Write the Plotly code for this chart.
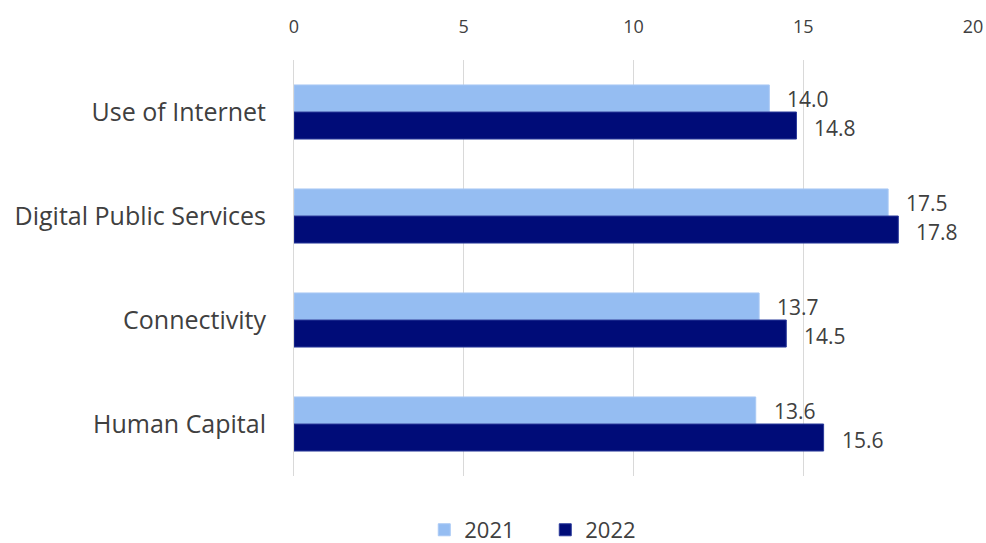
import plotly.graph_objects as go

categories = ["Use of Internet", "Digital Public Services", "Connectivity", "Human Capital"]
values_2021 = [14.0, 17.5, 13.7, 13.6]
values_2022 = [14.8, 17.8, 14.5, 15.6]
x_ticks = [0, 5, 10, 15, 20]

c2021 = "#95BDF2"
c2022 = "#000C78"
font_family = "Open Sans, Noto Sans, sans-serif"
text_color = "#404040"

fig = go.Figure()
fig.add_trace(go.Bar(
    y=categories, x=values_2021, name="2021", orientation="h",
    marker=dict(color=c2021, line=dict(color="#a9c9f5", width=1)),
))
fig.add_trace(go.Bar(
    y=categories, x=values_2022, name="2022", orientation="h",
    marker=dict(color=c2022, line=dict(color="#2a3a9a", width=1)),
))

annotations = []
for cat, v in zip(categories, values_2021):
    annotations.append(dict(x=v, y=cat, text=f"{v:.1f}", showarrow=False,
                            xanchor="left", yanchor="middle", xshift=16, yshift=13,
                            font=dict(size=21, color=text_color, family=font_family)))
for cat, v in zip(categories, values_2022):
    annotations.append(dict(x=v, y=cat, text=f"{v:.1f}", showarrow=False,
                            xanchor="left", yanchor="middle", xshift=16, yshift=-16,
                            font=dict(size=21, color=text_color, family=font_family)))

fig.update_layout(
    width=986, height=543,
    margin=dict(l=294, r=13, t=60, b=67),
    paper_bgcolor="white", plot_bgcolor="white",
    barmode="group", bargap=0.48, bargroupgap=0,
    font=dict(family=font_family, size=18, color=text_color),
    showlegend=True,
    annotations=annotations,
    legend=dict(orientation="h", xref="container", yref="container",
                x=0.553, xanchor="center", y=0.024, yanchor="middle",
                entrywidth=76, entrywidthmode="pixels",
                font=dict(size=22, color=text_color), traceorder="normal"),
    xaxis=dict(side="top", range=[0, 20], tickvals=x_ticks, showgrid=True,
               gridcolor="#d9d9d9", gridwidth=1, zeroline=False, showline=False,
               ticks="", automargin=False, ticklabelstandoff=22,
               tickfont=dict(size=18, color=text_color)),
    yaxis=dict(categoryorder="array", categoryarray=categories, autorange="reversed",
               showgrid=False, showline=True, linecolor="#d9d9d9", ticks="",
               automargin=False, ticklabelstandoff=22,
               tickfont=dict(size=25, color=text_color)),
)

fig.write_html("out.html", config={"displayModeBar": False},
               post_script="document.body.style.margin='0';")
